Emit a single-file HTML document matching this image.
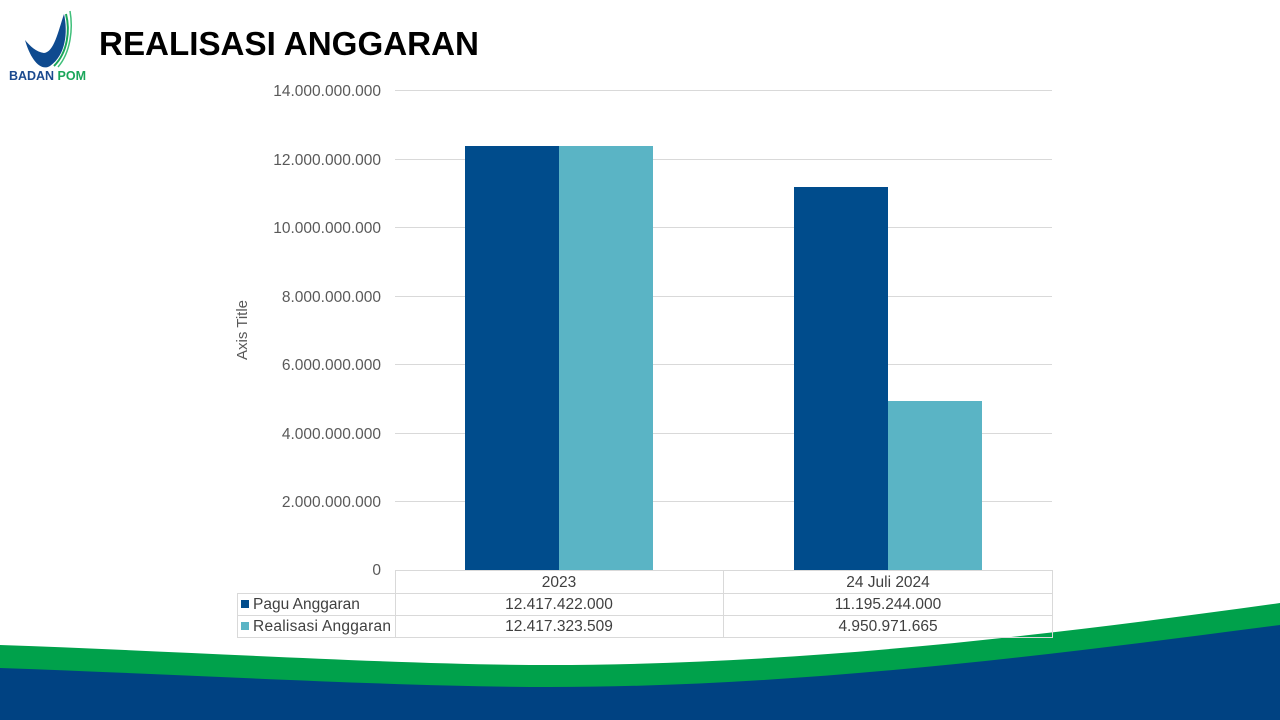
<!DOCTYPE html>
<html><head><meta charset="utf-8"><style>
body{margin:0;width:1280px;height:720px;overflow:hidden;background:#fff;font-family:"Liberation Sans",Arial,sans-serif;}
</style></head><body>
<svg width="1280" height="720" viewBox="0 0 1280 720" xmlns="http://www.w3.org/2000/svg" style="position:absolute;left:0;top:0">
<path d="M0,645 C200,652 400,665 550,665 C800,665 1050,635 1280,603 L1280,720 L0,720 Z" fill="#00a14b"/>
<path d="M0,668 C200,675 400,687 550,687 C800,687 1050,655 1280,625 L1280,720 L0,720 Z" fill="#004282"/>
<!-- logo -->
<path d="M25,40 C30,46 36,52 44,53 C54,52 58,32 64,14 C68,32 66,55 50,66 C40,72 30,58 25,40 Z" fill="#0e4a8f"/>
<path d="M66,14 C70,30 68,52 54,66" stroke="#1aa65a" stroke-width="2" fill="none"/>
<path d="M70,11 C73,28 71,52 58,67" stroke="#3fbf7a" stroke-width="1.5" fill="none"/>
<text x="9" y="80" font-size="12.5" font-weight="bold" fill="#1b4a8f" textLength="77">BADAN <tspan fill="#1aa65a">POM</tspan></text>
<text x="99" y="55" font-size="33" font-weight="bold" fill="#000" textLength="380" lengthAdjust="spacingAndGlyphs">REALISASI ANGGARAN</text>
<g stroke="#d9d9d9" stroke-width="1">
<line x1="395" y1="90.5" x2="1052" y2="90.5"/>
<line x1="395" y1="159.5" x2="1052" y2="159.5"/>
<line x1="395" y1="227.5" x2="1052" y2="227.5"/>
<line x1="395" y1="296.5" x2="1052" y2="296.5"/>
<line x1="395" y1="364.5" x2="1052" y2="364.5"/>
<line x1="395" y1="433.5" x2="1052" y2="433.5"/>
<line x1="395" y1="501.5" x2="1052" y2="501.5"/>
</g>
<g font-size="15.5" fill="#595959" text-anchor="end">
<text x="381" y="96">14.000.000.000</text>
<text x="381" y="165">12.000.000.000</text>
<text x="381" y="233">10.000.000.000</text>
<text x="381" y="302">8.000.000.000</text>
<text x="381" y="370">6.000.000.000</text>
<text x="381" y="439">4.000.000.000</text>
<text x="381" y="507">2.000.000.000</text>
<text x="381" y="575">0</text>
</g>
<text transform="translate(247,330) rotate(-90)" font-size="15" fill="#595959" text-anchor="middle">Axis Title</text>
<rect x="465" y="146" width="94" height="424" fill="#004c8c"/>
<rect x="559" y="146" width="94" height="424" fill="#5ab4c5"/>
<rect x="794" y="187" width="94" height="383" fill="#004c8c"/>
<rect x="888" y="401" width="94" height="169" fill="#5ab4c5"/>
<g stroke="#d9d9d9" stroke-width="1" fill="none">
<line x1="395" y1="570.5" x2="1052" y2="570.5"/>
<line x1="237" y1="593.5" x2="1052" y2="593.5"/>
<line x1="237" y1="615.5" x2="1052" y2="615.5"/>
<line x1="237" y1="637.5" x2="1052" y2="637.5"/>
<line x1="237.5" y1="593" x2="237.5" y2="638"/>
<line x1="395.5" y1="570" x2="395.5" y2="638"/>
<line x1="723.5" y1="570" x2="723.5" y2="638"/>
<line x1="1052.5" y1="570" x2="1052.5" y2="638"/>
</g>
<rect x="241" y="600" width="8" height="8" fill="#004c8c"/>
<rect x="241" y="622" width="8" height="8" fill="#5ab4c5"/>
<g font-size="15.5" fill="#404040">
<text x="253" y="609">Pagu Anggaran</text>
<text x="253" y="631" textLength="138">Realisasi Anggaran</text>
</g>
<g font-size="15.5" fill="#404040" text-anchor="middle">
<text x="559" y="587">2023</text>
<text x="888" y="587">24 Juli 2024</text>
<text x="559" y="609">12.417.422.000</text>
<text x="888" y="609">11.195.244.000</text>
<text x="559" y="631">12.417.323.509</text>
<text x="888" y="631">4.950.971.665</text>
</g>
</svg>
</body></html>
